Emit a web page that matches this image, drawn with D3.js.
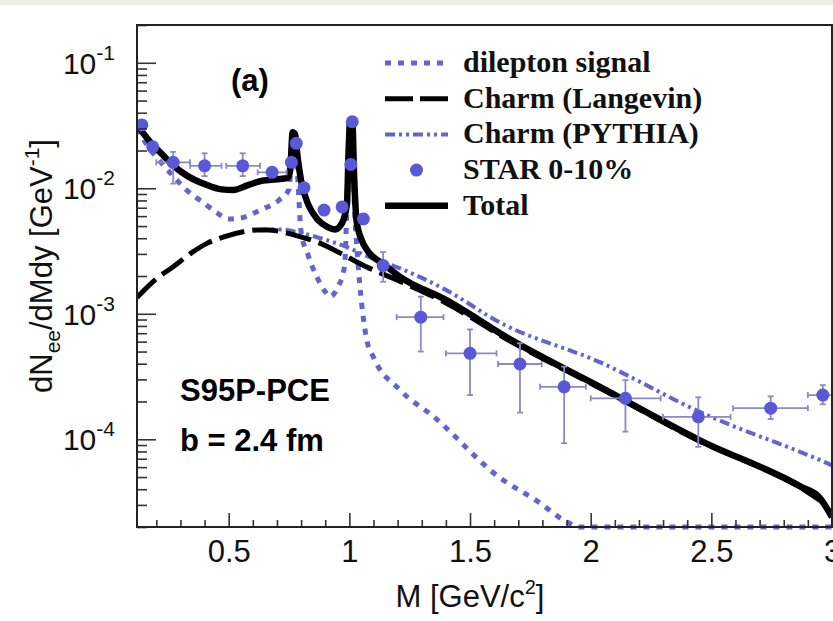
<!DOCTYPE html>
<html>
<head>
<meta charset="utf-8">
<script src="https://cdn.jsdelivr.net/npm/d3@7"></script>
<style>
  body { margin: 0; background: #fff; }
  svg { display: block; }
</style>
</head>
<body>
<div id="wrapper"></div>
<script>
// DATA -- [M in GeV/c^2, dN/dMdy]
const dileptonSignal = [
  [0.12, 0.030], [0.17, 0.021], [0.22, 0.016], [0.27, 0.0125], [0.33, 0.0095],
  [0.39, 0.0078], [0.45, 0.0064], [0.50, 0.0057], [0.55, 0.0058], [0.63, 0.0067],
  [0.71, 0.0081], [0.75, 0.0098], [0.765, 0.024], [0.775, 0.023], [0.785, 0.013],
  [0.80, 0.0045], [0.83, 0.0029], [0.865, 0.00197], [0.90, 0.0015], [0.92, 0.00137],
  [0.95, 0.0016], [0.98, 0.0024], [0.995, 0.015], [1.003, 0.031], [1.012, 0.031],
  [1.02, 0.008], [1.03, 0.0036], [1.044, 0.00164], [1.072, 0.00062], [1.10, 0.00045],
  [1.21, 0.000247], [1.35, 0.000151], [1.62, 0.00005], [1.78, 0.000032], [1.90, 0.000022],
  [1.95, 0.000015], [2.0, 0.00001], [2.5, 0.000001], [3.0, 0.0000001]
]

const charmLangevin = [
  [0.12, 0.00135], [0.20, 0.0019], [0.27, 0.00237], [0.35, 0.0031], [0.41, 0.00364],
  [0.48, 0.0041], [0.56, 0.0045], [0.62, 0.00465], [0.66, 0.00465], [0.72, 0.0045],
  [0.78, 0.0042], [0.88, 0.00364], [0.99, 0.00285], [1.07, 0.00237], [1.20, 0.00185],
  [1.40, 0.00122], [1.67, 0.0006], [2.04, 0.000255], [2.45, 0.000097], [2.87, 0.000041],
  [3.0, 0.000028]
]

const charmPythia = [
  [0.62, 0.00465], [0.66, 0.0047], [0.72, 0.0047],
  [0.78, 0.0045], [0.88, 0.0040], [0.99, 0.0034], [1.07, 0.0029], [1.21, 0.0023],
  [1.40, 0.00155], [1.62, 0.00086], [2.04, 0.00041], [2.45, 0.000166], [2.98, 0.0000645],
  [3.0, 0.000062]
]

const total = [
  [0.12, 0.032], [0.17, 0.024], [0.22, 0.019], [0.27, 0.0152], [0.33, 0.0125],
  [0.40, 0.0108], [0.47, 0.0098], [0.52, 0.0097], [0.58, 0.0106], [0.64, 0.0115],
  [0.70, 0.0118], [0.745, 0.0121], [0.755, 0.014], [0.765, 0.028], [0.775, 0.027],
  [0.785, 0.018], [0.80, 0.0115], [0.83, 0.0074], [0.87, 0.0056], [0.91, 0.0049],
  [0.94, 0.0047], [0.97, 0.0053], [0.99, 0.0075], [0.997, 0.02], [1.003, 0.034],
  [1.012, 0.034], [1.02, 0.012], [1.03, 0.0055], [1.05, 0.0039], [1.08, 0.0031],
  [1.14, 0.0025], [1.21, 0.00197], [1.40, 0.00129], [1.67, 0.00062], [2.04, 0.00026],
  [2.45, 0.0000986], [2.87, 0.000042], [2.95, 0.000034], [3.0, 0.000024]
]

// STAR 0-10%: M, value, M low, M high, value low, value high
const starM   = [0.14, 0.185, 0.27, 0.40, 0.558, 0.68, 0.76, 0.78, 0.812, 0.895, 0.97, 1.006, 1.012, 1.058, 1.14, 1.296, 1.50, 1.707, 1.89, 2.144, 2.446, 2.746, 2.962]
const starY   = [0.032, 0.0214, 0.0161, 0.0151, 0.0151, 0.0134, 0.0161, 0.0228, 0.0101, 0.0067, 0.0071, 0.0155, 0.0339, 0.0057, 0.00242, 0.00094, 0.000484, 0.000398, 0.000262, 0.000212, 0.000151, 0.000177, 0.000225]
const starMlo = [0.14, 0.185, 0.20, 0.34, 0.49, 0.62, 0.76, 0.78, 0.812, 0.895, 0.97, 1.006, 1.012, 1.058, 1.14, 1.196, 1.40, 1.616, 1.79, 2.0, 2.30, 2.59, 2.90]
const starMhi = [0.14, 0.185, 0.34, 0.47, 0.63, 0.74, 0.76, 0.78, 0.812, 0.895, 0.97, 1.006, 1.012, 1.058, 1.14, 1.39, 1.61, 1.797, 1.98, 2.29, 2.58, 2.90, 3.05]
const starYlo = [0.032, 0.0214, 0.0109, 0.0125, 0.0125, 0.0125, 0.0161, 0.0228, 0.0101, 0.0062, 0.0066, 0.0155, 0.0339, 0.0057, 0.0018, 0.0005, 0.000225, 0.000163, 0.000093, 0.000115, 0.000087, 0.000145, 0.00019]
const starYhi = [0.032, 0.0214, 0.0195, 0.019, 0.019, 0.0145, 0.0161, 0.0228, 0.0101, 0.0073, 0.0077, 0.0155, 0.0339, 0.0057, 0.0031, 0.00137, 0.00075, 0.000582, 0.000379, 0.000296, 0.000216, 0.00022, 0.00027]

const xTicks = [0.5, 1, 1.5, 2, 2.5, 3]
const yDecades = [1e-4, 1e-3, 1e-2, 1e-1]
const yExponents = ["-4", "-3", "-2", "-1"]

const legendLabels = ["dilepton signal", "Charm (Langevin)", "Charm (PYTHIA)", "STAR 0-10%", "Total"]

// DIMENSIONS
const width = 833
const height = 621
const frame = { left: 137, right: 832, top: 25, bottom: 527 }

const blue = "#6464d0"
const dotBlue = "#5858d8"

// line styles shared by plot and legend
const dileptonStyle = { stroke: blue, width: 5, dash: "6,7" }
const langevinStyle = { stroke: "#000", width: 5, dash: "26,8" }
const pythiaStyle = { stroke: blue, width: 4, dash: "10,4,3,4,3,4" }
const totalStyle = { stroke: "#000", width: 6.5, dash: null }

const svg = d3.select("#wrapper")
  .append("svg")
  .attr("width", width)
  .attr("height", height)

svg.append("rect")
  .attr("x", 0).attr("y", 0)
  .attr("width", width).attr("height", 5)
  .attr("fill", "#eeeee8")

// SCALES
const xScale = d3.scaleLinear()
  .domain([0.12, 3.0])
  .range([frame.left, frame.right])

const yScale = d3.scaleLog()
  .domain([2e-5, 0.2])
  .range([frame.bottom, frame.top])
  .clamp(true)

svg.append("clipPath").attr("id", "clip")
  .append("rect")
  .attr("x", frame.left).attr("y", frame.top)
  .attr("width", frame.right - frame.left)
  .attr("height", frame.bottom - frame.top + 3)

const lineGen = d3.line()
  .x(d => xScale(d[0]))
  .y(d => yScale(d[1]))
  .curve(d3.curveMonotoneX)

const plot = svg.append("g").attr("clip-path", "url(#clip)")

const drawCurve = (data, st) => plot.append("path")
  .attr("d", lineGen(data))
  .attr("fill", "none")
  .attr("stroke", st.stroke)
  .attr("stroke-width", st.width)
  .attr("stroke-dasharray", st.dash)
  .attr("stroke-linejoin", "round")

drawCurve(dileptonSignal, dileptonStyle)
drawCurve(charmPythia, pythiaStyle)
drawCurve(charmLangevin, langevinStyle)
drawCurve(total, totalStyle)

// STAR points with error bars
const star = starM.map((m, i) => ({
  m, v: starY[i], mlo: starMlo[i], mhi: starMhi[i], vlo: starYlo[i], vhi: starYhi[i]
}))

const errG = plot.append("g")
  .attr("stroke", "#8a8ac8")
  .attr("stroke-width", 1.8)

star.forEach(d => {
  if (d.mhi > d.mlo) {
    errG.append("line")
      .attr("x1", xScale(d.mlo)).attr("x2", xScale(d.mhi))
      .attr("y1", yScale(d.v)).attr("y2", yScale(d.v))
    ;[d.mlo, d.mhi].forEach(e => errG.append("line")
      .attr("x1", xScale(e)).attr("x2", xScale(e))
      .attr("y1", yScale(d.v) - 3).attr("y2", yScale(d.v) + 3))
  }
  if (d.vhi > d.vlo) {
    errG.append("line")
      .attr("x1", xScale(d.m)).attr("x2", xScale(d.m))
      .attr("y1", yScale(d.vlo)).attr("y2", yScale(d.vhi))
    ;[d.vlo, d.vhi].forEach(e => errG.append("line")
      .attr("x1", xScale(d.m) - 3).attr("x2", xScale(d.m) + 3)
      .attr("y1", yScale(e)).attr("y2", yScale(e)))
  }
})

plot.append("g")
  .selectAll("circle")
  .data(star)
  .join("circle")
  .attr("cx", d => xScale(d.m))
  .attr("cy", d => yScale(d.v))
  .attr("r", 6.5)
  .attr("fill", dotBlue)

// AXES
const xMinor = d3.range(2, 31).map(d => d / 10).filter(d => !xTicks.includes(d))
const yMinor = []
;[1e-5, 1e-4, 1e-3, 1e-2, 1e-1].forEach(dec => {
  for (let k = 2; k <= 9; k++) {
    const v = k * dec
    if (v >= 2e-5 && v <= 0.2) yMinor.push(v)
  }
})

const xAxisMinor = svg.append("g")
  .attr("transform", `translate(0,${frame.bottom})`)
  .call(d3.axisBottom(xScale).tickValues(xMinor).tickSize(-7).tickFormat(""))
const xAxis = svg.append("g")
  .attr("transform", `translate(0,${frame.bottom})`)
  .call(d3.axisBottom(xScale).tickValues(xTicks).tickSize(-14).tickPadding(13).tickFormat(d3.format("")))

const yAxisMinor = svg.append("g")
  .attr("transform", `translate(${frame.left},0)`)
  .call(d3.axisLeft(yScale).tickValues(yMinor).tickSize(-10).tickFormat(""))
const yAxis = svg.append("g")
  .attr("transform", `translate(${frame.left},0)`)
  .call(d3.axisLeft(yScale).tickValues(yDecades).tickSize(-19).tickFormat(""))

;[xAxisMinor, xAxis, yAxisMinor, yAxis].forEach(a => {
  a.select(".domain").remove()
  a.selectAll(".tick line").attr("stroke", "#333").attr("stroke-width", 1.6)
})

xAxis.selectAll(".tick text")
  .attr("font-family", "Liberation Sans, Arial, sans-serif")
  .attr("font-size", 31)
  .attr("fill", "#111")

// y tick labels 10^n
yDecades.forEach((v, i) => {
  const t = svg.append("text")
    .attr("x", 115)
    .attr("y", yScale(v) + 11)
    .attr("text-anchor", "end")
    .attr("font-family", "Liberation Sans, Arial, sans-serif")
    .attr("font-size", 30)
    .attr("fill", "#111")
  t.append("tspan").text("10")
  t.append("tspan").attr("dy", -14).attr("font-size", 21).text(yExponents[i])
})

// frame
svg.append("rect")
  .attr("x", frame.left).attr("y", frame.top)
  .attr("width", frame.right - frame.left)
  .attr("height", frame.bottom - frame.top)
  .attr("fill", "none")
  .attr("stroke", "#222")
  .attr("stroke-width", 2)

// axis titles
const xTitle = svg.append("text")
  .attr("x", 470).attr("y", 607)
  .attr("text-anchor", "middle")
  .attr("font-family", "Liberation Sans, Arial, sans-serif")
  .attr("font-size", 31)
  .attr("fill", "#111")
xTitle.append("tspan").text("M [GeV/c")
xTitle.append("tspan").attr("dy", -13).attr("font-size", 20).text("2")
xTitle.append("tspan").attr("dy", 13).text("]")

const yTitle = svg.append("text")
  .attr("transform", "translate(52,266) rotate(-90)")
  .attr("text-anchor", "middle")
  .attr("font-family", "Liberation Sans, Arial, sans-serif")
  .attr("font-size", 31)
  .attr("fill", "#111")
yTitle.append("tspan").text("dN")
yTitle.append("tspan").attr("dy", 8).attr("font-size", 21).text("ee")
yTitle.append("tspan").attr("dy", -8).text("/dMdy [GeV")
yTitle.append("tspan").attr("dy", -13).attr("font-size", 21).text("-1")
yTitle.append("tspan").attr("dy", 13).text("]")

// annotations
const sansFamily = "Liberation Sans, Arial, sans-serif"
svg.append("text")
  .attr("x", 250).attr("y", 91)
  .attr("text-anchor", "middle")
  .attr("font-family", sansFamily)
  .attr("font-weight", "bold")
  .attr("font-size", 31)
  .text("(a)")

svg.append("text")
  .attr("x", 180).attr("y", 401)
  .attr("font-family", sansFamily)
  .attr("font-weight", "bold")
  .attr("font-size", 31)
  .text("S95P-PCE")

svg.append("text")
  .attr("x", 180).attr("y", 451)
  .attr("font-family", sansFamily)
  .attr("font-weight", "bold")
  .attr("font-size", 31)
  .text("b = 2.4 fm")

// LEGEND
const legend = svg.append("g")
const rowY = i => 63 + i * 35.7
const symX0 = 385
const symX1 = 448

const legendLine = (i, st, dash) => legend.append("line")
  .attr("x1", symX0).attr("x2", symX1).attr("y1", rowY(i)).attr("y2", rowY(i))
  .attr("stroke", st.stroke).attr("stroke-width", st.width)
  .attr("stroke-dasharray", dash)

legendLine(0, dileptonStyle, dileptonStyle.dash)
legendLine(1, langevinStyle, "28,7")
legendLine(2, pythiaStyle, pythiaStyle.dash)
legend.append("circle")
  .attr("cx", (symX0 + symX1) / 2).attr("cy", rowY(3)).attr("r", 6.5)
  .attr("fill", dotBlue)
legendLine(4, totalStyle, null)

legend.selectAll("text")
  .data(legendLabels)
  .join("text")
  .attr("x", 463)
  .attr("y", (d, i) => rowY(i) + 9)
  .attr("font-family", "Liberation Serif, Times New Roman, serif")
  .attr("font-weight", "bold")
  .attr("font-size", 30)
  .attr("fill", "#111")
  .text(d => d)
</script>
</body>
</html>
